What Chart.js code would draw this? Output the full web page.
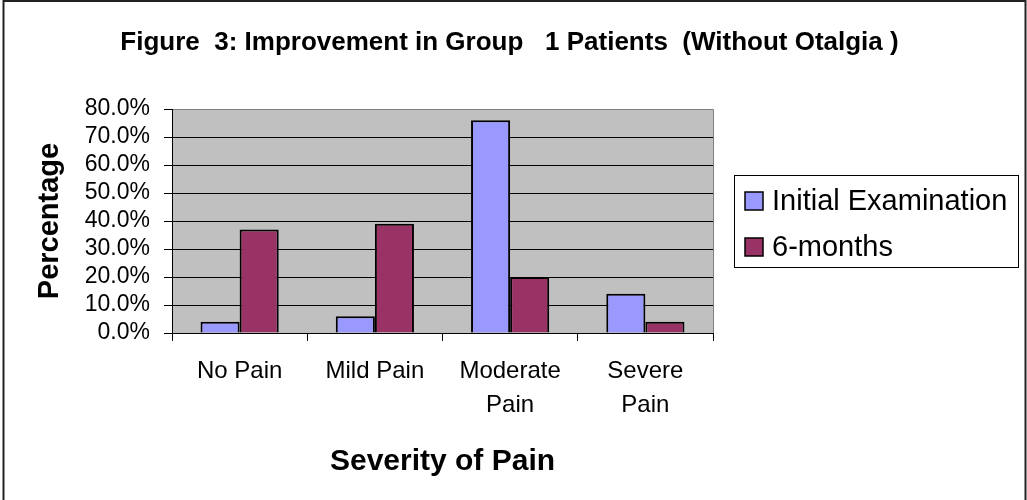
<!DOCTYPE html>
<html>
<head>
<meta charset="utf-8">
<script src="https://cdn.jsdelivr.net/npm/chart.js@4"></script>
<style>
  html, body { margin: 0; padding: 0; background: #fff; }
  #wrap { width: 1027px; height: 500px; }
</style>
</head>
<body>
<div id="wrap"><canvas id="myChart" width="1027" height="500"></canvas></div>
<script>
let categories = ['No Pain', 'Mild Pain', ['Moderate', 'Pain'], ['Severe', 'Pain']]
let initialExam = [4, 6, 76, 14]
let sixMonths = [37, 39, 20, 4]
let seriesNames = ['Initial Examination', '6-months']
let chartTitle = 'Figure  3: Improvement in Group   1 Patients  (Without Otalgia )'

const FONT = "'Liberation Sans', Arial, sans-serif"

// gray plot area, figure frame and the centred title
const plotBack = {
  id: 'plotBack',
  beforeDraw(chart) {
    const { ctx, chartArea: a } = chart
    ctx.save()
    ctx.fillStyle = '#c0c0c0'
    ctx.fillRect(a.left, a.top, a.right - a.left, a.bottom - a.top)
    ctx.strokeStyle = '#808080'
    ctx.lineWidth = 1
    ctx.beginPath()
    ctx.moveTo(a.left, a.top + 0.5)
    ctx.lineTo(a.right + 0.5, a.top + 0.5)
    ctx.lineTo(a.right + 0.5, a.bottom)
    ctx.stroke()
    ctx.restore()
  },
  afterDraw(chart) {
    const ctx = chart.ctx
    ctx.save()
    ctx.strokeStyle = '#222'
    ctx.lineWidth = 2
    ctx.beginPath()
    ctx.moveTo(3.5, 500)
    ctx.lineTo(3.5, 1)
    ctx.lineTo(1025.5, 1)
    ctx.lineTo(1025.5, 500)
    ctx.stroke()
    ctx.fillStyle = '#000'
    ctx.font = 'bold 26px ' + FONT
    ctx.textAlign = 'center'
    ctx.textBaseline = 'middle'
    ctx.fillText(chartTitle, chart.width / 2 - 4, 43)
    ctx.restore()
  }
}

// excel-like legend box on the right
const boxLegend = {
  id: 'boxLegend',
  afterDraw(chart) {
    const { ctx, chartArea: a } = chart
    const x = a.right + 21, y = 175, w = 284, h = 92
    ctx.save()
    ctx.strokeStyle = '#000'
    ctx.lineWidth = 1
    ctx.strokeRect(x + 0.5, y + 0.5, w, h)
    ctx.font = '29px ' + FONT
    ctx.textBaseline = 'middle'
    chart.data.datasets.forEach(function (ds, i) {
      const cy = y + 26 + i * 46
      ctx.fillStyle = ds.backgroundColor
      ctx.fillRect(x + 11, cy - 9, 18, 18)
      ctx.lineWidth = 1.5
      ctx.strokeRect(x + 11, cy - 9, 18, 18)
      ctx.fillStyle = '#000'
      ctx.fillText(ds.label, x + 38, cy + 1)
    })
    ctx.restore()
  }
}

var ctx = document.getElementById('myChart').getContext('2d')
var chart = new Chart(ctx, {
  type: 'bar',
  data: {
    labels: categories,
    datasets: [{
      label: seriesNames[0],
      backgroundColor: '#9999ff',
      borderColor: '#000',
      borderWidth: 2,
      data: initialExam
    }, {
      label: seriesNames[1],
      backgroundColor: '#993366',
      borderColor: '#000',
      borderWidth: 2,
      data: sixMonths
    }]
  },
  options: {
    responsive: false,
    animation: false,
    layout: { padding: { left: 0, right: 314, top: 109, bottom: 0 } },
    datasets: { bar: { categoryPercentage: 0.578, barPercentage: 1 } },
    plugins: {
      legend: { display: false },
      tooltip: { enabled: false },
      title: { display: false }
    },
    scales: {
      x: {
        grid: { drawOnChartArea: false, offset: true, tickLength: 8, tickColor: '#000' },
        border: { color: '#000', width: 1 },
        ticks: { color: '#000', padding: 13, maxRotation: 0, font: { family: FONT, size: 24, lineHeight: 1.44 } },
        title: {
          display: true,
          text: 'Severity of Pain',
          color: '#000',
          font: { family: FONT, size: 30, weight: 'bold', lineHeight: 1.2 },
          padding: { top: 0, bottom: 20 }
        },
        afterFit(scale) { scale.height = 167 }
      },
      y: {
        min: 0,
        max: 80,
        grid: {
          color: c => (c.tick && c.tick.value === 80 ? '#808080' : '#000'),
          tickColor: '#000',
          tickLength: 8
        },
        border: { color: '#000', width: 1 },
        ticks: {
          color: '#000',
          stepSize: 10,
          autoSkip: false,
          padding: 14,
          font: { family: FONT, size: 23 },
          callback: v => v.toFixed(1) + '%'
        },
        title: {
          display: true,
          text: 'Percentage',
          color: '#000',
          font: { family: FONT, size: 29, weight: 'bold', lineHeight: 1.2 },
          padding: { top: 33, bottom: 0 }
        },
        afterFit(scale) { scale.width = 172 }
      }
    }
  },
  plugins: [plotBack, boxLegend]
})
</script>
</body>
</html>
